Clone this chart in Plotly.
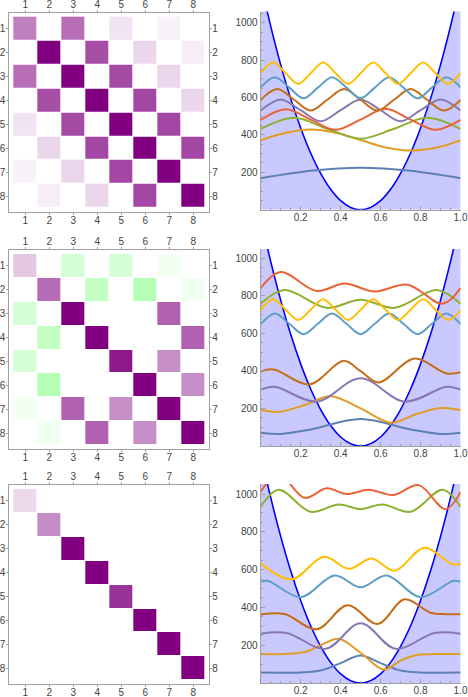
import plotly.graph_objects as go

# ---- matrices (left column), symmetric, values in [-1, 1]
m_top = [
    [0.50, 0, 0.57, 0, 0.11, 0, 0.05, 0],
    [0, 1.00, 0, 0.70, 0, 0.16, 0, 0.07],
    [0.57, 0, 1.00, 0, 0.71, 0, 0.16, 0],
    [0, 0.70, 0, 1.00, 0, 0.72, 0, 0.16],
    [0.11, 0, 0.71, 0, 1.00, 0, 0.72, 0],
    [0, 0.16, 0, 0.72, 0, 1.00, 0, 0.72],
    [0.05, 0, 0.16, 0, 0.72, 0, 1.00, 0],
    [0, 0.07, 0, 0.16, 0, 0.72, 0, 1.00],
]
m_mid = [
    [0.22, 0, -0.17, 0, -0.17, 0, -0.05, 0],
    [0, 0.58, 0, -0.23, 0, -0.29, 0, -0.06],
    [-0.17, 0, 1.00, 0, 0, 0, 0.62, 0],
    [0, -0.23, 0, 1.00, 0, 0, 0, 0.62],
    [-0.17, 0, 0, 0, 0.90, 0, 0.44, 0],
    [0, -0.29, 0, 0, 0, 1.00, 0, 0.44],
    [-0.05, 0, 0.62, 0, 0.44, 0, 1.00, 0],
    [0, -0.06, 0, 0.62, 0, 0.44, 0, 1.00],
]
m_bot = [
    [0.15, 0, 0, 0, 0, 0, 0, 0],
    [0, 0.45, 0, 0, 0, 0, 0, 0],
    [0, 0, 1.00, 0, 0, 0, 0, 0],
    [0, 0, 0, 1.00, 0, 0, 0, 0],
    [0, 0, 0, 0, 0.80, 0, 0, 0],
    [0, 0, 0, 0, 0, 1.00, 0, 0],
    [0, 0, 0, 0, 0, 0, 1.00, 0],
    [0, 0, 0, 0, 0, 0, 0, 1.00],
]
idx = [1, 2, 3, 4, 5, 6, 7, 8]

# ---- potential (same in the three right panels)
pot_x = [0, .05, .1, .15, .2, .25, .3, .35, .4, .45, .5, .55, .6, .65, .7, .75, .8, .85, .9, .95, 1]
pot_y = [1212, 982, 776, 594, 437, 303, 194, 109, 48, 12, 0, 12, 48, 109, 194, 303, 437, 594, 776, 982, 1212]

# ---- curves, top panel (x, y) key points
top_blue = ([0, .25, .5, .75, 1], [168, 208, 225, 208, 168])
top_orange = ([0, .125, .25, .375, .5, .625, .75, .875, 1], [371, 411, 429, 412, 373, 333, 316, 331, 371])
top_green = ([0, .167, .333, .5, .667, .833, 1], [432, 492, 433, 380, 433, 492, 432])
top_red = ([0, .125, .25, .375, .5, .625, .75, .875, 1], [480, 537, 482, 427, 482, 540, 482, 427, 480])
top_purple = ([0, .1, .2, .3, .4, .5, .6, .7, .8, .9, 1], [530, 590, 532, 473, 532, 590, 532, 473, 532, 590, 530])
top_brown = ([0, .083, .167, .25, .333, .417, .5, .583, .667, .75, .833, .917, 1],
             [587, 645, 588, 530, 588, 645, 588, 530, 588, 645, 588, 530, 587])
top_lblue = ([0, .071, .143, .214, .286, .357, .429, .5, .571, .643, .714, .786, .857, .929, 1],
             [655, 709, 653, 596, 653, 709, 653, 596, 653, 709, 653, 596, 653, 709, 655])
top_yellow = ([0, .0625, .125, .1875, .25, .3125, .375, .4375, .5, .5625, .625, .6875, .75, .8125, .875, .9375, 1],
              [730, 787, 730, 673, 730, 787, 730, 673, 730, 787, 730, 673, 730, 787, 730, 673, 730])

# ---- curves, middle panel
mid_blue = ([0, .1, .25, .5, .75, .9, 1], [70, 64, 88, 143, 88, 64, 70])
mid_orange = ([0, .09, .22, .35, .5, .65, .78, .9, 1], [191, 182, 218, 265, 200, 124, 170, 202, 191])
mid_green = ([0, .12, .33, .5, .67, .88, 1], [757, 830, 735, 778, 735, 830, 757])
mid_red = ([0, .1, .28, .42, .57, .735, .91, 1], [840, 925, 825, 864, 822, 858, 757, 840])
mid_purple = ([0, .07, .28, .5, .72, .93, 1], [300, 315, 236, 360, 236, 315, 300])
mid_brown = ([0, .065, .245, .415, .5, .59, .77, .93, 1], [397, 407, 328, 453, 398, 338, 465, 386, 392])
mid_lblue = ([0, .071, .143, .214, .286, .357, .429, .5, .571, .643, .714, .786, .857, .929, 1],
             [648, 705, 650, 595, 650, 705, 650, 595, 650, 705, 650, 595, 650, 705, 648])
mid_yellow = ([0, .0625, .125, .1875, .25, .3125, .375, .4375, .5, .5625, .625, .6875, .75, .8125, .875, .9375, 1],
              [722, 781, 725, 670, 725, 781, 725, 670, 725, 781, 725, 670, 725, 781, 725, 670, 722])

# ---- curves, bottom panel
bot_blue = ([0, .2, .3, .4, .5, .6, .7, .8, 1], [55, 56, 66, 105, 146, 105, 66, 56, 55])
bot_orange = ([0, .12, .22, .3, .39, .5, .615, .7, .78, .88, 1], [153, 154, 164, 200, 234, 160, 72, 118, 148, 153, 153])
bot_green = ([0, .09, .25, .39, .5, .61, .75, .91, 1], [932, 1022, 906, 945, 920, 945, 906, 1022, 932])
bot_red = ([0, .09, .22, .33, .43, .54, .665, .79, .925, 1], [1012, 1105, 980, 1030, 1000, 1022, 995, 1047, 920, 1010])
bot_purple = ([0, .13, .325, .5, .675, .87, 1], [261, 265, 181, 316, 181, 265, 261])
bot_brown = ([0, .12, .28, .435, .585, .72, .85, .93, 1], [363, 365, 284, 412, 312, 443, 372, 364, 364])
bot_lblue = ([0, .035, .2, .37, .5, .63, .8, .965, 1], [536, 541, 454, 569, 506, 569, 454, 541, 536])
bot_yellow = ([0, .155, .317, .442, .555, .67, .82, .96, 1], [633, 549, 668, 604, 659, 594, 716, 628, 630])

colores = ["#5E81B5", "#E19C24", "#8FB032", "#EB6235", "#8778B3", "#C56E1A", "#5D9EC7", "#FFBF00"]

filas = [
    (m_top, [top_blue, top_orange, top_green, top_red, top_purple, top_brown, top_lblue, top_yellow], 1060),
    (m_mid, [mid_blue, mid_orange, mid_green, mid_red, mid_purple, mid_brown, mid_lblue, mid_yellow], 1048),
    (m_bot, [bot_blue, bot_orange, bot_green, bot_red, bot_purple, bot_brown, bot_lblue, bot_yellow], 1053),
]

# pixel boxes (top, bottom) for each row: matrix frame and right plot
W, H = 468, 697
caja_mat = [(12.7, 212), (250, 449), (485, 684.3)]
caja_plot = [(11.5, 209.7), (249, 446), (484, 683)]
mat_x = [9.3 / W, 209.3 / W]
plot_x = [260.7 / W, 460.7 / W]

gris = "#a0a0a0"
fuente = dict(family="Liberation Sans", size=10, color="#444")
escala = [[0, "rgb(0,255,0)"], [0.5, "white"], [1, "rgb(128,0,128)"]]
rango = [0.333, 8.667]

fig = go.Figure()
layout = {}

for r, (mat, curvas, ytop) in enumerate(filas):
    a = 2 * r + 1   # matrix axes
    b = 2 * r + 2   # plot axes
    o = 7 + r       # overlay axes for the extra labels
    sa = "" if a == 1 else str(a)

    fig.add_trace(go.Heatmap(
        z=mat, x=idx, y=idx, colorscale=escala, zmin=-1, zmax=1,
        showscale=False, xgap=1, ygap=1, hoverinfo="skip",
        xaxis="x" + sa, yaxis="y" + sa))
    fig.add_trace(go.Scatter(
        x=[1], y=[1], mode="markers", marker=dict(opacity=0),
        hoverinfo="skip", showlegend=False,
        xaxis="x%d" % o, yaxis="y%d" % o))

    t, bt = caja_mat[r]
    dom_y = [1 - bt / H, 1 - t / H]
    comun = dict(range=rango, tickvals=idx, ticks="outside", ticklen=2,
                 tickcolor=gris, showgrid=False, zeroline=False, automargin=False,
                 tickfont=fuente, fixedrange=True)
    layout["xaxis" + sa] = dict(comun, domain=mat_x, side="top", anchor="y" + sa,
                                showline=True, linecolor=gris, mirror=True,
                                ticklabelstandoff=-2)
    layout["yaxis" + sa] = dict(comun, domain=dom_y, anchor="x" + sa,
                                range=rango[::-1], showline=True, linecolor=gris,
                                mirror=True, ticklabelstandoff=-1)
    layout["xaxis%d" % o] = dict(comun, overlaying="x" + sa, side="bottom",
                                 anchor="y" + sa, showline=False, ticklabelstandoff=-3)
    layout["yaxis%d" % o] = dict(comun, overlaying="y" + sa, side="right",
                                 anchor="x" + sa, range=rango[::-1], showline=False,
                                 ticklabelstandoff=-2)

    # potential with filling to the axis
    fig.add_trace(go.Scatter(
        x=pot_x, y=pot_y, mode="lines", line=dict(color="#0000ff", width=1.6, shape="spline"),
        fill="tozeroy", fillcolor="rgba(0,0,255,0.21)", hoverinfo="skip",
        showlegend=False, xaxis="x%d" % b, yaxis="y%d" % b))
    for (cx, cy), col in zip(curvas, colores):
        fig.add_trace(go.Scatter(
            x=cx, y=cy, mode="lines", line=dict(color=col, width=2, shape="spline", smoothing=1),
            hoverinfo="skip", showlegend=False, xaxis="x%d" % b, yaxis="y%d" % b))

    t, bt = caja_plot[r]
    layout["xaxis%d" % b] = dict(
        domain=plot_x, anchor="y%d" % b, range=[0, 1.0008],
        tickvals=[0.2, 0.4, 0.6, 0.8, 1.0], ticktext=["0.2", "0.4", "0.6", "0.8", "1.0"],
        ticks="inside", ticklen=4, tickcolor=gris, showline=True, linecolor=gris,
        minor=dict(ticks="inside", ticklen=2, dtick=0.05, tick0=0, tickcolor=gris),
        showgrid=False, zeroline=False, automargin=False, tickfont=fuente, fixedrange=True,
        ticklabelstandoff=-2, ticklabeloverflow="allow")
    layout["yaxis%d" % b] = dict(
        domain=[1 - bt / H, 1 - t / H], anchor="x%d" % b, range=[0, ytop],
        tickvals=[200, 400, 600, 800, 1000],
        ticks="inside", ticklen=4, tickcolor=gris, showline=True, linecolor=gris,
        minor=dict(ticks="inside", ticklen=2, dtick=50, tick0=0, tickcolor=gris),
        showgrid=False, zeroline=False, automargin=False, tickfont=fuente, fixedrange=True)

fig.update_layout(
    width=W, height=H,
    margin=dict(l=0, r=0, t=0, b=0),
    paper_bgcolor="white", plot_bgcolor="white",
    showlegend=False,
    **layout
)

# la pagina trae margen de 8px en el body, lo saco para que la figura ocupe la ventana
fig.write_html("out.html", config={"displayModeBar": False},
               post_script="document.body.style.margin='0';")
